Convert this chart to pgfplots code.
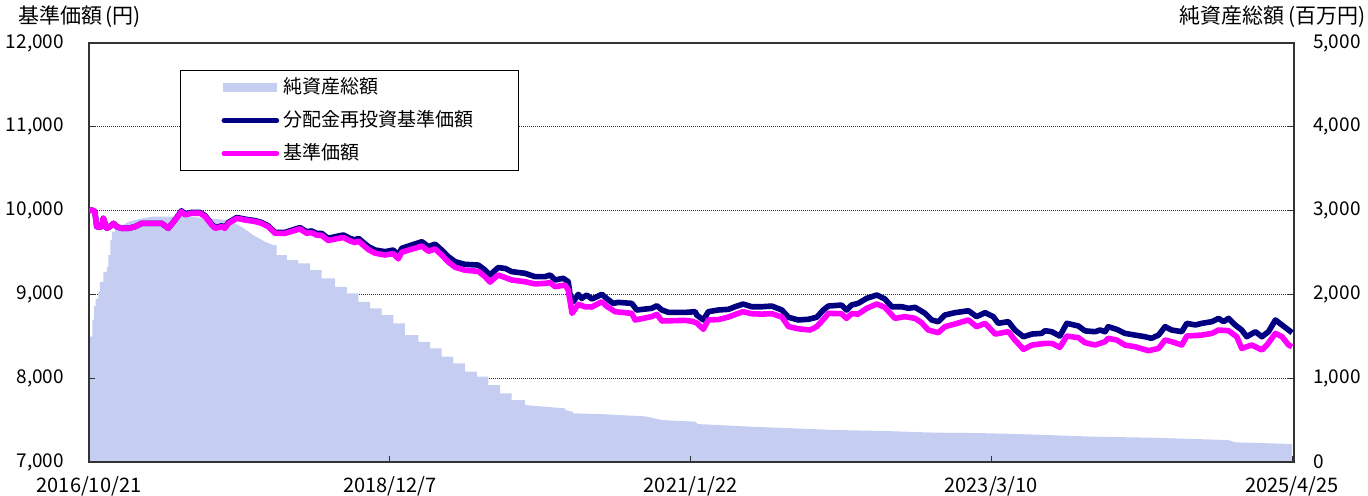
\documentclass[border=0pt]{standalone}
\usepackage{fontspec}
\setmainfont{Noto Sans CJK JP}
\usepackage{pgfplots}
\pgfplotsset{compat=1.18}
\definecolor{areacol}{RGB}{197,206,240}
\definecolor{navycol}{RGB}{0,0,128}
\definecolor{pinkcol}{RGB}{255,0,255}
\begin{document}
\begin{tikzpicture}
\useasboundingbox (0,0) rectangle (684pt,247.5pt);
\pgfplotsset{
  base/.style={at={(44.5pt,16.5pt)}, anchor=south west, scale only axis,
    width=602.5pt, height=209.5pt, xmin=0, xmax=3113, scaled y ticks=false, scaled x ticks=false},
}
% Axis A: grid and left labels
\begin{axis}[base, ymin=7000, ymax=12000, ytick={7000,8000,...,12000}, xtick=\empty,
  ymajorgrids, major grid style={dash pattern=on 0.5pt off 0.5pt, black!80, line width=0.5pt},
  axis line style={draw=none}, major tick length=0pt,
  yticklabel style={font=\fontsize{9.5}{10}\selectfont, xshift=-9pt},
  /pgf/number format/assume math mode=true, /pgf/number format/1000 sep={,}]
\addplot[draw=none] coordinates {(0,7000)};
\end{axis}
% Axis B: net assets area, right axis, box
\begin{axis}[base, ymin=0, ymax=5000, ytick={0,1000,...,5000},
  xtick={0,777,1554,2331,3108},
  xticklabels={2016/10/21,2018/12/7,2021/1/22,2023/3/10,2025/4/25},
  tick align=inside, major tick length=3pt, tick style={black!80, line width=0.5pt},
  ytick pos=both, yticklabel pos=right, xtick pos=left, xticklabel pos=left,
  axis on top, axis line style={black!80, line width=0.8pt},
  yticklabel style={font=\fontsize{9.5}{10}\selectfont, xshift=6pt},
  xticklabel style={font=\fontsize{10}{10}\selectfont, yshift=-4pt},
  /pgf/number format/assume math mode=true, /pgf/number format/1000 sep={,}]
\addplot[fill=areacol, draw=none] coordinates {
(0,1495) (9,1495) (9,1700) (13,1700) (13,1860) (17,1860) (17,1950) (24,1950) (24,2032) (28,2032) (28,2150) (37,2150) (37,2270) (46,2270) (46,2330) (50,2330) (50,2470) (55,2470) (55,2650) (59,2650) (59,2748) (67,2748) (67,2788) (85,2820) (102,2867) (130,2900) (162,2927) (250,2930) (330,2900) (364,2880) (394,2807) (424,2708) (455,2628) (475,2589) (485,2589)
(485,2470) (511,2470) (511,2410) (540,2410) (540,2370) (571,2370) (571,2290) (601,2290) (601,2191) (636,2191) (636,2091) (666,2091) (666,2013) (696,2013) (696,1912) (726,1912) (726,1833) (756,1833) (756,1754) (786,1754) (786,1655) (816,1655) (816,1515) (851,1515) (851,1435) (881,1435) (881,1356) (911,1356) (911,1257) (941,1257) (941,1178) (971,1178) (971,1078) (1002,1078) (1002,1018) (1032,1018) (1032,919) (1062,919) (1062,820) (1092,820) (1092,740) (1126,740) (1126,680) (1230,640) (1230,620) (1250,600) (1250,581) (1330,570) (1436,545) (1480,501) (1566,481) (1573,453) (1712,421) (1824,401) (1927,382) (2056,370) (2186,350) (2300,345) (2400,334) (2599,302) (2745,290) (2943,262) (2961,235) (3108,215)
} \closedcycle;
\end{axis}
% Axis C: price lines and legend
\begin{axis}[base, ymin=7000, ymax=12000, hide axis,
  legend style={at={(0.0755,0.9356)}, anchor=north west, draw=black, line width=0.6pt, fill=white,
    font=\fontsize{9.5}{11}\selectfont, inner xsep=20.5pt, inner ysep=3pt, row sep=5.5pt,
    nodes={inner ysep=0pt, text height=8.5pt, text depth=2.5pt},
    /tikz/every even column/.append style={column sep=2pt}},
  legend cell align=left]
\addlegendimage{legend image code/.code={\fill[areacol] (0pt,-2pt) rectangle (26.5pt,2pt);}}
\addlegendentry{純資産総額}
\addplot[navycol, line width=2.8pt, line join=round,
  legend image code/.code={\draw[line cap=round, line width=2.3pt] (0pt,0pt) -- (26.5pt,0pt);}] coordinates {
(0,10000) (7,10007) (15,9990) (20,9808) (33,9808) (37,9908) (46,9789) (54,9808) (63,9848) (72,9808) (84,9789) (102,9789) (119,9808) (136,9848) (162,9848) (188,9848) (205,9789) (222,9888) (239,9998) (248,9960) (265,9978) (287,9978) (300,9940) (317,9838) (326,9799) (343,9818) (351,9799) (360,9858) (382,9918) (403,9898) (429,9880) (446,9858) (463,9818) (481,9739) (506,9740)
(545,9797) (562,9748) (575,9757) (588,9729) (601,9729) (618,9669) (636,9689) (657,9709) (674,9669) (687,9650) (696,9669) (722,9570) (739,9530) (765,9510) (786,9530) (799,9470) (808,9550) (834,9590) (860,9629) (877,9570) (894,9600) (911,9530) (928,9451) (946,9390) (971,9359) (1006,9350) (1023,9291) (1036,9232)
(1057,9320) (1075,9310) (1092,9272) (1109,9262) (1126,9252) (1152,9212) (1178,9212) (1191,9232) (1204,9172) (1225,9192) (1238,9152) (1243,8993) (1251,8913) (1264,9001) (1273,8953) (1286,8993) (1299,8945) (1325,9001) (1337,8953) (1354,8893) (1367,8905) (1402,8893) (1415,8814) (1454,8834) (1467,8865) (1480,8814) (1497,8786) (1522,8786) (1540,8785) (1566,8794)
(1570,8754) (1587,8695) (1600,8794) (1626,8814) (1652,8822) (1669,8853) (1690,8885) (1712,8853) (1738,8853) (1764,8861) (1790,8814) (1807,8727) (1832,8695) (1858,8703) (1880,8727) (1897,8814) (1910,8861) (1944,8873) (1957,8814) (1970,8873) (1987,8893) (2009,8953) (2035,8993) (2056,8945) (2074,8853)
(2100,8853) (2117,8834) (2134,8846) (2160,8774) (2177,8695) (2194,8674) (2211,8754) (2237,8782) (2272,8805) (2293,8735) (2315,8782) (2336,8735) (2349,8655) (2375,8675) (2392,8575) (2414,8495) (2436,8527) (2461,8535) (2470,8567) (2487,8555) (2508,8503) (2526,8655) (2556,8623) (2573,8565) (2599,8555)
(2612,8575) (2625,8555) (2633,8615) (2655,8583) (2676,8535) (2702,8515) (2728,8495) (2745,8476) (2763,8515) (2780,8615) (2797,8575) (2823,8555) (2836,8655) (2858,8635) (2875,8655) (2901,8675) (2918,8714) (2931,8675) (2944,8714) (2961,8635) (2978,8575) (2991,8495) (3013,8555) (3030,8495) (3047,8555) (3065,8695) (3082,8635) (3099,8575) (3108,8543)
};
\addlegendentry{分配金再投資基準価額}
\addplot[pinkcol, line width=2.8pt, line join=round,
  legend image code/.code={\draw[line cap=round, line width=2.3pt] (0pt,0pt) -- (26.5pt,0pt);}] coordinates {
(0,10000) (7,10007) (15,9990) (20,9808) (33,9808) (37,9908) (46,9789) (54,9808) (63,9848) (72,9808) (84,9789) (102,9789) (119,9808) (136,9848) (162,9848) (188,9848) (205,9789) (222,9888) (239,9988) (248,9950) (265,9968) (287,9968) (300,9930) (317,9828) (326,9789) (343,9808) (351,9789) (360,9848) (382,9908) (403,9888) (429,9870) (446,9848) (463,9808) (481,9729) (506,9728)
(545,9782) (562,9730) (575,9737) (588,9707) (601,9705) (618,9643) (636,9661) (657,9679) (674,9639) (687,9618) (696,9636) (722,9534) (739,9492) (765,9470) (786,9487) (799,9425) (808,9504) (834,9540) (860,9576) (877,9515) (894,9543) (911,9470) (928,9388) (946,9324) (971,9289) (1006,9275) (1023,9211) (1036,9147)
(1057,9232) (1092,9172) (1126,9152) (1152,9125) (1178,9132) (1191,9140) (1204,9092) (1230,9112) (1238,9052) (1248,8774) (1264,8882) (1281,8853) (1299,8850) (1325,8913) (1337,8860) (1359,8794) (1402,8774) (1411,8695) (1454,8735) (1467,8762) (1480,8683) (1540,8690) (1557,8680) (1570,8660) (1587,8584)
(1600,8695) (1626,8700) (1652,8730) (1669,8760) (1690,8794) (1712,8770) (1738,8765) (1764,8770) (1790,8730) (1807,8616) (1832,8590) (1863,8575) (1880,8616) (1897,8700) (1910,8774) (1944,8770) (1957,8714) (1970,8770) (1987,8765) (2009,8834) (2035,8885) (2056,8846) (2082,8714)
(2108,8735) (2134,8714) (2151,8662) (2168,8575) (2194,8543) (2211,8615) (2237,8647) (2272,8695) (2293,8615) (2315,8655) (2341,8527) (2375,8555) (2392,8456) (2414,8345) (2436,8396) (2470,8416) (2487,8416) (2508,8368) (2526,8503) (2556,8484) (2573,8424) (2599,8396)
(2625,8436) (2633,8476) (2655,8456) (2676,8396) (2702,8376) (2737,8328) (2763,8356) (2780,8456) (2797,8436) (2823,8396) (2836,8503) (2875,8515) (2901,8535) (2918,8575) (2944,8567) (2965,8495) (2978,8356) (3004,8396) (3030,8337) (3043,8396) (3065,8535) (3082,8495) (3099,8396) (3108,8376)
};
\addlegendentry{基準価額}
\end{axis}
\node[anchor=west, inner sep=0pt, font=\fontsize{10.5}{12}\selectfont] at (9pt,239pt) {基準価額\,(円)};
\node[anchor=east, inner sep=0pt, font=\fontsize{10.5}{12}\selectfont] at (683pt,239pt) {純資産総額\,(百万円)};
\end{tikzpicture}
\end{document}
